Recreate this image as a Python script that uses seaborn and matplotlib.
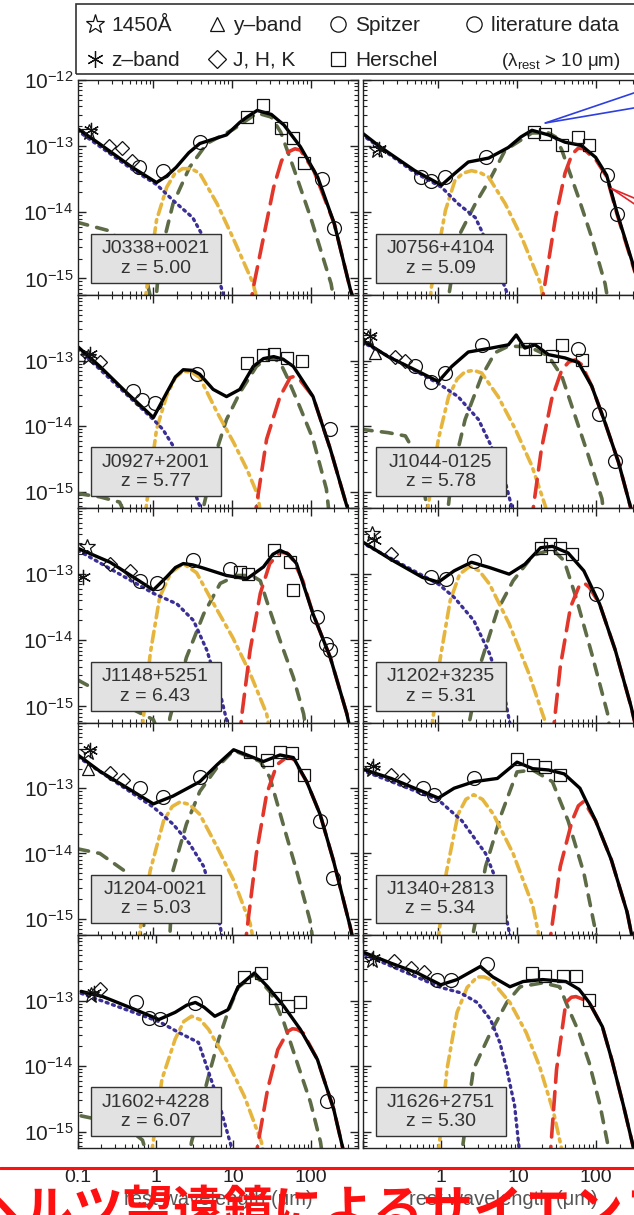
import numpy as np
import pandas as pd
import seaborn as sns
import matplotlib
matplotlib.use('Agg')
import matplotlib.pyplot as plt
from matplotlib.lines import Line2D
from matplotlib.patches import Rectangle
from matplotlib.ticker import FixedLocator, LogLocator, NullFormatter, FuncFormatter

# all values: (log10 rest wavelength [um], log10 nu*F_nu)
names = ["J0338+0021", "J0756+4104", "J0927+2001", "J1044-0125", "J1148+5251",
         "J1202+3235", "J1204-0021", "J1340+2813", "J1602+4228", "J1626+2751"]
redshifts = ["5.00", "5.09", "5.77", "5.78", "6.43", "5.31", "5.03", "5.34", "6.07", "5.30"]

# ---- J0338+0021
j0338_total = [(-0.97, -12.73), (-0.69, -12.96), (-0.27, -13.32), (0.04, -13.55), (0.17, -13.45), (0.29, -13.32),
               (0.45, -13.1), (0.59, -12.96), (0.93, -12.83), (1.1, -12.64), (1.19, -12.56), (1.32, -12.46),
               (1.5, -12.52), (1.66, -12.68), (1.87, -13.01), (2.09, -13.47), (2.30, -14.17), (2.51, -15.19),
               (2.6, -15.5)]
j0338_disk = [(-0.97, -12.76), (-0.27, -13.35), (0.04, -13.58), (0.25, -13.82), (0.5, -14.08), (0.68, -14.47),
              (0.85, -15.08), (0.95, -15.5)]
j0338_hot = [(-0.12, -15.5), (-0.09, -15.19), (0.04, -14.12), (0.17, -13.62), (0.27, -13.42), (0.37, -13.34),
             (0.48, -13.34), (0.59, -13.41), (0.81, -13.87), (1.01, -14.38), (1.27, -15.08), (1.35, -15.5)]
j0338_warm = [(0.02, -15.5), (0.08, -14.69), (0.25, -13.87), (0.46, -13.32), (0.68, -12.96), (1.01, -12.75),
              (1.32, -12.5), (1.5, -12.56), (1.62, -12.79), (1.78, -13.32), (2.0, -14.08), (2.26, -15.08),
              (2.32, -15.5)]
j0338_host = [(-0.97, -14.15), (-0.56, -14.28), (-0.27, -14.58), (-0.09, -14.99), (0.0, -15.5)]
j0338_cold = [(1.22, -15.5), (1.27, -15.14), (1.40, -14.38), (1.53, -13.62), (1.63, -13.22), (1.71, -13.09),
              (1.8, -13.04), (1.87, -13.06), (2.04, -13.37), (2.30, -14.17), (2.51, -15.19), (2.6, -15.5)]
j0338_star = [(-0.82, -12.79)]
j0338_zband = [(-0.79, -12.76)]
j0338_yband = []
j0338_jhk = [(-0.56, -13.0), (-0.4, -13.03), (-0.27, -13.22)]
j0338_spitzer = [(-0.18, -13.32), (0.12, -13.37), (0.59, -12.94)]
j0338_herschel = [(1.19, -12.56), (1.4, -12.38), (1.62, -12.73), (1.78, -12.88), (1.91, -13.26)]
j0338_lit = [(2.15, -13.49), (2.3, -14.23)]

# ---- J0756+4104
j0756_total = [(-0.98, -12.79), (-0.73, -13.02), (-0.3, -13.37), (0.04, -13.59), (0.21, -13.41), (0.38, -13.24),
               (0.64, -13.18), (0.89, -13.02), (1.05, -12.86), (1.19, -12.76), (1.40, -12.83), (1.61, -12.94),
               (1.82, -12.99), (2.0, -13.17), (2.14, -13.44), (2.27, -14.0), (2.46, -14.73), (2.6, -15.3)]
j0756_disk = [(-0.98, -12.82), (-0.3, -13.4), (0.04, -13.62), (0.25, -13.87), (0.47, -14.08), (0.55, -14.28),
              (0.85, -15.14), (0.95, -15.5)]
j0756_hot = [(-0.12, -15.5), (-0.09, -15.14), (0.09, -13.97), (0.21, -13.52), (0.31, -13.41), (0.42, -13.37),
             (0.53, -13.4), (0.64, -13.47), (0.85, -13.87), (1.06, -14.38), (1.3, -15.08), (1.36, -15.5)]
j0756_warm = [(0.1, -15.5), (0.25, -14.38), (0.47, -13.87), (0.67, -13.47), (0.85, -13.06), (1.19, -12.8),
              (1.4, -12.8), (1.49, -12.86), (1.57, -13.06), (1.78, -13.77), (1.95, -14.38), (2.12, -15.08),
              (2.18, -15.5)]
j0756_host = []
j0756_cold = [(1.3, -15.5), (1.34, -15.19), (1.49, -14.08), (1.61, -13.41), (1.7, -13.12), (1.78, -13.03),
              (1.85, -13.04), (1.91, -13.11), (2.0, -13.2), (2.14, -13.46), (2.27, -14.02), (2.46, -14.75),
              (2.6, -15.3)]
j0756_star = [(-0.78, -13.06)]
j0756_zband = [(-0.75, -13.04)]
j0756_yband = []
j0756_jhk = []
j0756_spitzer = [(-0.22, -13.47), (-0.1, -13.52), (0.09, -13.47), (0.6, -13.16)]
j0756_herschel = [(1.21, -12.79), (1.36, -12.81), (1.57, -12.99), (1.78, -12.86), (1.91, -12.99)]
j0756_lit = [(2.14, -13.44), (2.27, -14.02)]
# pointer lines drawn on the J0756 panel
j0756_blue_lines = [[(1.36, -12.65), (2.6, -12.15)], [(1.36, -12.65), (2.6, -12.40)]]
j0756_red_lines = [[(2.2, -13.64), (2.6, -13.84)], [(2.2, -13.64), (2.6, -13.96)]]

# ---- J0927+2001
j0927_total = [(-0.96, -12.79), (-0.68, -13.09), (-0.34, -13.49), (0.0, -13.87), (0.17, -13.49), (0.28, -13.25),
               (0.38, -13.14), (0.5, -13.15), (0.59, -13.21), (0.76, -13.44), (0.93, -13.55), (1.1, -13.44),
               (1.27, -13.09), (1.4, -12.97), (1.53, -12.94), (1.65, -12.98), (1.78, -13.09), (2.03, -13.55),
               (2.25, -14.35), (2.46, -15.22), (2.55, -15.5)]
j0927_disk = [(-0.96, -12.82), (0.0, -13.9), (0.12, -14.05), (0.25, -14.3), (0.4, -14.6), (0.59, -15.22),
              (0.65, -15.5)]
j0927_hot = [(-0.12, -15.5), (-0.09, -15.22), (0.04, -14.05), (0.17, -13.53), (0.28, -13.26), (0.38, -13.16),
             (0.49, -13.18), (0.59, -13.26), (0.81, -13.79), (1.02, -14.25), (1.19, -14.66), (1.33, -15.06),
             (1.38, -15.5)]
j0927_warm = [(0.6, -15.5), (0.64, -15.22), (0.81, -14.35), (0.93, -13.9), (1.1, -13.49), (1.31, -13.09),
              (1.42, -12.99), (1.53, -12.96), (1.62, -13.05), (1.7, -13.25), (1.86, -13.7), (2.03, -14.2),
              (2.2, -14.96), (2.25, -15.5)]
j0927_host = [(-0.96, -15.03), (-0.68, -15.08), (-0.43, -15.16), (-0.3, -15.5)]
j0927_cold = [(1.28, -15.5), (1.31, -15.22), (1.44, -14.2), (1.61, -13.55), (1.74, -13.26), (1.8, -13.24),
              (1.86, -13.29), (2.03, -13.55), (2.25, -14.35), (2.46, -15.22), (2.55, -15.5)]
j0927_star = [(-0.83, -12.94)]
j0927_zband = [(-0.8, -12.9)]
j0927_yband = []
j0927_jhk = [(-0.68, -13.02)]
j0927_spitzer = [(-0.26, -13.47), (-0.15, -13.6), (0.02, -13.65), (0.55, -13.21)]
j0927_herschel = [(1.19, -13.03), (1.4, -12.91), (1.53, -12.9), (1.7, -12.96), (1.89, -13.01)]
j0927_lit = [(2.25, -14.05)]

# ---- J1044-0125
j1044_total = [(-0.98, -12.68), (-0.64, -12.94), (-0.3, -13.14), (0.0, -13.32), (0.17, -13.09), (0.38, -12.87),
               (0.67, -12.81), (0.89, -12.76), (0.99, -12.61), (1.1, -12.81), (1.23, -12.76), (1.4, -12.91),
               (1.61, -12.96), (1.78, -13.03), (1.95, -13.39), (2.12, -13.95), (2.29, -14.55), (2.44, -15.22),
               (2.5, -15.5)]
j1044_disk = [(-0.98, -12.71), (0.0, -13.35), (0.25, -13.55), (0.51, -13.9), (0.67, -14.3), (0.85, -14.85),
              (0.93, -15.22), (0.97, -15.5)]
j1044_hot = [(-0.16, -15.5), (-0.13, -15.22), (0.0, -14.2), (0.13, -13.55), (0.24, -13.28), (0.34, -13.17),
             (0.45, -13.15), (0.55, -13.19), (0.76, -13.55), (0.98, -14.05), (1.19, -14.61), (1.36, -15.22),
             (1.4, -15.5)]
j1044_warm = [(0.1, -15.5), (0.17, -14.76), (0.34, -13.9), (0.55, -13.24), (0.72, -12.88), (0.89, -12.78),
              (1.15, -12.79), (1.4, -12.93), (1.57, -13.24), (1.74, -13.85), (1.91, -14.46), (2.08, -15.11),
              (2.12, -15.5)]
j1044_host = [(-0.98, -14.05), (-0.64, -14.1), (-0.42, -14.15), (-0.3, -14.4), (-0.2, -14.8), (-0.12, -15.5)]
j1044_cold = [(1.18, -15.5), (1.21, -15.22), (1.31, -14.35), (1.44, -13.59), (1.57, -13.14), (1.66, -13.02),
              (1.74, -12.99), (1.82, -13.06), (1.95, -13.39), (2.12, -13.95), (2.29, -14.55), (2.44, -15.22),
              (2.5, -15.5)]
j1044_star = [(-0.89, -12.66)]
j1044_zband = [(-0.87, -12.62)]
j1044_yband = [(-0.8, -12.89)]
j1044_jhk = [(-0.55, -12.94), (-0.42, -13.01)]
j1044_spitzer = [(-0.3, -13.09), (-0.1, -13.32), (0.09, -13.19), (0.55, -12.76)]
j1044_herschel = [(1.1, -12.82), (1.23, -12.82), (1.44, -12.93), (1.57, -12.76), (1.82, -12.99)]
j1044_lit = [(1.78, -12.83), (2.04, -13.82), (2.25, -14.53)]

# ---- J1148+5251
j1148_total = [(-0.96, -12.61), (-0.55, -12.82), (0.0, -13.24), (0.17, -13.04), (0.28, -12.9), (0.38, -12.84),
               (0.5, -12.86), (0.64, -12.91), (0.93, -13.02), (1.19, -13.07), (1.4, -12.89), (1.52, -12.7),
               (1.61, -12.64), (1.72, -12.7), (1.82, -12.84), (2.03, -13.6), (2.25, -14.26), (2.46, -15.11),
               (2.53, -15.5)]
j1148_disk = [(-0.96, -12.64), (0.0, -13.29), (0.3, -13.45), (0.51, -13.7), (0.68, -14.15), (0.85, -14.81),
              (0.93, -15.2), (0.97, -15.5)]
j1148_hot = [(-0.16, -15.5), (-0.13, -15.2), (-0.04, -14.2), (0.08, -13.35), (0.22, -12.98), (0.38, -12.84),
             (0.55, -12.98), (0.72, -13.35), (1.01, -13.96), (1.23, -14.5), (1.44, -15.11), (1.5, -15.5)]
j1148_warm = [(0.18, -15.5), (0.21, -15.17), (0.42, -14.26), (0.64, -13.6), (0.85, -13.14), (1.06, -13.02),
              (1.25, -13.02), (1.36, -13.1), (1.44, -13.4), (1.61, -14.0), (1.78, -14.56), (1.91, -15.11),
              (1.96, -15.5)]
j1148_host = [(-0.96, -14.6), (-0.5, -14.9), (0.0, -15.2), (0.1, -15.5)]
j1148_cold = [(1.1, -15.5), (1.12, -15.17), (1.23, -14.15), (1.36, -13.29), (1.48, -12.84), (1.61, -12.67),
              (1.7, -12.68), (1.78, -12.79), (1.9, -13.1), (2.03, -13.6), (2.25, -14.26), (2.46, -15.11),
              (2.53, -15.5)]
j1148_star = [(-0.85, -12.59)]
j1148_zband = [(-0.9, -13.04)]
j1148_yband = []
j1148_jhk = [(-0.55, -12.84), (-0.3, -12.95)]
j1148_spitzer = [(-0.17, -13.1), (0.04, -13.14), (0.51, -12.79), (0.97, -12.92)]
j1148_herschel = [(1.1, -12.97), (1.2, -13.0), (1.53, -12.64), (1.74, -12.81), (1.78, -13.24)]
j1148_lit = [(2.08, -13.65), (2.2, -14.05), (2.25, -14.15)]

# ---- J1202+3235
j1202_total = [(-0.98, -12.5), (-0.6, -12.78), (-0.2, -13.05), (0.0, -13.12), (0.2, -12.95), (0.42, -12.82),
               (0.65, -12.9), (0.9, -13.0), (1.1, -12.85), (1.3, -12.6), (1.45, -12.58), (1.65, -12.68),
               (1.85, -12.95), (2.05, -13.45), (2.25, -14.15), (2.45, -15.0), (2.55, -15.5)]
j1202_disk = [(-0.98, -12.52), (0.0, -13.15), (0.2, -13.35), (0.45, -13.7), (0.65, -14.2), (0.85, -14.9),
              (0.95, -15.5)]
j1202_hot = [(-0.1, -15.5), (0.02, -14.3), (0.15, -13.4), (0.27, -13.0), (0.4, -12.88), (0.52, -12.95),
             (0.65, -13.15), (0.9, -13.75), (1.15, -14.5), (1.35, -15.2), (1.4, -15.5)]
j1202_warm = [(0.35, -15.5), (0.55, -14.3), (0.75, -13.55), (0.95, -13.1), (1.2, -12.72), (1.45, -12.62),
              (1.6, -12.8), (1.75, -13.35), (1.95, -14.2), (2.15, -15.1), (2.2, -15.5)]
j1202_host = []
j1202_cold = [(1.45, -15.5), (1.55, -14.4), (1.68, -13.5), (1.8, -13.15), (1.86, -13.14), (1.92, -13.2),
              (2.05, -13.45), (2.25, -14.15), (2.45, -15.0), (2.55, -15.5)]
j1202_star = [(-0.85, -12.4)]
j1202_zband = [(-0.82, -12.48)]
j1202_yband = []
j1202_jhk = [(-0.6, -12.7)]
j1202_spitzer = [(-0.1, -13.05), (0.1, -13.08), (0.45, -12.8)]
j1202_herschel = [(1.3, -12.6), (1.42, -12.55), (1.55, -12.6), (1.7, -12.7)]
j1202_lit = [(2.0, -13.3)]

# ---- J1204-0021
j1204_total = [(-0.96, -12.49), (-0.68, -12.74), (-0.34, -12.99), (0.0, -13.24), (0.25, -13.12), (0.59, -12.9),
               (0.81, -12.64), (1.02, -12.41), (1.19, -12.49), (1.4, -12.59), (1.61, -12.49), (1.78, -12.53),
               (1.95, -12.9), (2.12, -13.4), (2.29, -14.11), (2.5, -15.11), (2.57, -15.5)]
j1204_disk = [(-0.96, -12.52), (0.0, -13.29), (0.25, -13.55), (0.46, -13.85), (0.64, -14.2), (0.85, -15.11),
              (0.9, -15.5)]
j1204_hot = [(-0.2, -15.5), (-0.17, -15.17), (-0.04, -14.26), (0.13, -13.5), (0.24, -13.28), (0.34, -13.21),
             (0.46, -13.25), (0.59, -13.4), (0.81, -13.9), (1.02, -14.41), (1.23, -15.07), (1.3, -15.5)]
j1204_warm = [(0.2, -15.5), (0.25, -14.26), (0.42, -13.55), (0.59, -13.05), (0.81, -12.68), (1.02, -12.42),
              (1.36, -12.59), (1.48, -12.83), (1.65, -13.55), (1.82, -14.26), (1.99, -15.02), (2.05, -15.5)]
j1204_host = [(-0.96, -13.93), (-0.68, -14.0), (-0.34, -14.29), (-0.17, -14.66), (-0.08, -15.5)]
j1204_cold = [(1.16, -15.5), (1.19, -15.17), (1.31, -14.0), (1.44, -13.09), (1.57, -12.64), (1.70, -12.52),
              (1.78, -12.55), (1.95, -12.9), (2.12, -13.4), (2.29, -14.11), (2.5, -15.11), (2.57, -15.5)]
j1204_star = [(-0.83, -12.44)]
j1204_zband = [(-0.81, -12.42)]
j1204_yband = [(-0.83, -12.7)]
j1204_jhk = [(-0.55, -12.77), (-0.38, -12.87)]
j1204_spitzer = [(-0.17, -12.99), (0.12, -13.14), (0.59, -12.83)]
j1204_herschel = [(1.23, -12.44), (1.44, -12.56), (1.61, -12.44), (1.76, -12.46), (1.91, -12.79)]
j1204_lit = [(2.12, -13.5), (2.29, -14.38)]

# ---- J1340+2813
j1340_total = [(-0.98, -12.7), (-0.6, -12.85), (-0.2, -13.05), (0.0, -13.15), (0.2, -13.0), (0.45, -12.9),
               (0.75, -12.85), (1.0, -12.6), (1.2, -12.7), (1.4, -12.72), (1.6, -12.78), (1.8, -13.0),
               (2.0, -13.5), (2.2, -14.1), (2.4, -14.9), (2.5, -15.5)]
j1340_disk = [(-0.98, -12.72), (0.0, -13.18), (0.3, -13.5), (0.6, -14.0), (0.8, -14.6), (0.95, -15.5)]
j1340_hot = [(-0.02, -15.5), (0.1, -14.3), (0.25, -13.4), (0.35, -13.17), (0.45, -13.1), (0.56, -13.17),
             (0.7, -13.4), (0.95, -14.0), (1.2, -14.8), (1.32, -15.5)]
j1340_warm = [(0.4, -15.5), (0.6, -14.2), (0.8, -13.4), (1.0, -12.75), (1.2, -12.72), (1.45, -12.9),
              (1.65, -13.5), (1.85, -14.3), (2.05, -15.5)]
j1340_host = []
j1340_cold = [(1.4, -15.5), (1.55, -14.2), (1.7, -13.5), (1.78, -13.27), (1.85, -13.2), (2.0, -13.5),
              (2.2, -14.1), (2.4, -14.9), (2.5, -15.5)]
j1340_star = [(-0.85, -12.7)]
j1340_zband = [(-0.83, -12.66)]
j1340_yband = []
j1340_jhk = [(-0.6, -12.8), (-0.45, -12.88)]
j1340_spitzer = [(-0.2, -13.0), (-0.05, -13.1), (0.45, -12.85)]
j1340_herschel = [(1.0, -12.55), (1.2, -12.65), (1.35, -12.68), (1.55, -12.8)]
j1340_lit = []

# ---- J1602+4228
j1602_total = [(-0.96, -12.86), (-0.68, -12.94), (-0.26, -13.14), (0.04, -13.29), (0.25, -13.18), (0.4, -13.07),
               (0.51, -13.03), (0.62, -13.1), (0.76, -13.24), (0.93, -13.14), (1.06, -12.79), (1.27, -12.58),
               (1.44, -12.79), (1.65, -13.09), (1.86, -13.44), (2.08, -13.9), (2.29, -14.66), (2.4, -15.22),
               (2.45, -15.5)]
j1602_disk = [(-0.96, -12.89), (0.04, -13.32), (0.3, -13.49), (0.55, -13.64), (0.68, -14.09), (0.81, -14.55),
              (0.97, -15.22), (1.02, -15.5)]
j1602_hot = [(-0.07, -15.5), (-0.04, -15.22), (0.08, -14.2), (0.25, -13.59), (0.36, -13.32), (0.46, -13.24),
             (0.57, -13.29), (0.68, -13.44), (0.93, -13.95), (1.14, -14.46), (1.36, -15.16), (1.41, -15.5)]
j1602_warm = [(0.42, -15.5), (0.46, -15.16), (0.68, -14.15), (0.81, -13.59), (0.93, -13.17), (1.06, -12.8),
              (1.27, -12.6), (1.48, -12.88), (1.65, -13.34), (1.82, -13.95), (1.99, -14.55), (2.12, -15.16),
              (2.16, -15.5)]
j1602_host = [(-0.96, -14.76), (-0.68, -14.83), (-0.34, -14.97), (-0.17, -15.13), (-0.08, -15.5)]
j1602_cold = [(1.28, -15.5), (1.31, -15.22), (1.44, -14.35), (1.57, -13.75), (1.7, -13.47), (1.76, -13.43),
              (1.82, -13.44), (1.9, -13.5), (2.08, -13.9), (2.29, -14.66), (2.4, -15.22), (2.45, -15.5)]
j1602_star = [(-0.83, -12.91)]
j1602_zband = [(-0.8, -12.88)]
j1602_yband = []
j1602_jhk = [(-0.72, -12.83)]
j1602_spitzer = [(-0.26, -13.02), (-0.09, -13.26), (0.06, -13.28), (0.51, -13.03)]
j1602_herschel = [(1.14, -12.64), (1.36, -12.58), (1.53, -12.96), (1.70, -13.09), (1.86, -13.02)]
j1602_lit = [(2.2, -14.53)]

# ---- J1626+2751
j1626_total = [(-0.98, -12.27), (-0.64, -12.43), (-0.3, -12.58), (0.0, -12.76), (0.21, -12.68), (0.51, -12.48),
               (0.67, -12.64), (0.89, -12.79), (1.06, -12.71), (1.31, -12.68), (1.61, -12.71), (1.78, -12.83),
               (1.91, -13.03), (2.08, -13.4), (2.2, -13.9), (2.35, -14.6), (2.5, -15.35)]
j1626_disk = [(-0.98, -12.3), (0.0, -12.8), (0.25, -12.88), (0.47, -13.03), (0.64, -13.29), (0.76, -13.64),
              (0.85, -14.05), (0.95, -14.6), (1.03, -15.5)]
j1626_hot = [(-0.05, -15.5), (0.0, -15.0), (0.08, -14.05), (0.21, -13.18), (0.34, -12.8), (0.47, -12.64),
             (0.56, -12.64), (0.64, -12.68), (0.89, -13.03), (1.1, -13.49), (1.27, -14.0), (1.45, -14.7),
             (1.6, -15.5)]
j1626_warm = [(0.25, -15.5), (0.42, -14.05), (0.64, -13.49), (0.85, -13.03), (1.02, -12.79), (1.31, -12.73),
              (1.53, -12.79), (1.65, -13.14), (1.78, -13.49), (1.91, -13.95), (2.05, -14.6), (2.2, -15.5)]
j1626_host = []
j1626_cold = [(1.4, -15.5), (1.49, -14.05), (1.61, -13.03), (1.68, -12.95), (1.74, -12.94), (1.87, -13.0),
              (1.91, -13.03), (2.08, -13.4), (2.2, -13.9), (2.35, -14.6), (2.5, -15.35)]
j1626_star = [(-0.89, -12.38)]
j1626_zband = [(-0.87, -12.35)]
j1626_yband = []
j1626_jhk = [(-0.6, -12.4), (-0.38, -12.5), (-0.21, -12.56)]
j1626_spitzer = [(-0.05, -12.68), (0.13, -12.68), (0.6, -12.45)]
j1626_herschel = [(1.17, -12.58), (1.34, -12.63), (1.57, -12.63), (1.74, -12.63), (1.91, -12.99)]
j1626_lit = []

xticks_left = [0.1, 1, 10, 100]
xticks_right = [1, 10, 100]
xlabel = "rest wavelength (μm)"
caption = "テラヘルツ望遠鏡によるサイエンス"

panels = []
for key in ["j0338", "j0756", "j0927", "j1044", "j1148", "j1202", "j1204", "j1340", "j1602", "j1626"]:
    g = globals()
    panels.append({part: g[key + "_" + part] for part in
                   ["total", "disk", "hot", "warm", "host", "cold", "star", "zband", "yband",
                    "jhk", "spitzer", "herschel", "lit"]})

sns.set_theme(style="ticks")
plt.rcParams['font.family'] = ['Liberation Sans', 'DejaVu Sans']
plt.rcParams['mathtext.fontset'] = 'custom'
plt.rcParams['mathtext.rm'] = 'Liberation Sans'
plt.rcParams['mathtext.it'] = 'Liberation Sans:italic'
plt.rcParams['mathtext.default'] = 'regular'

W, H = 634, 1215
fig = plt.figure(figsize=(W / 100, H / 100), dpi=100)
fig.patch.set_facecolor('white')

row_top = [80, 295, 508, 723, 935]
row_bot = [295, 508, 723, 935, 1148]
col_x = [78, 363]
col_w = 280

line_styles = {
    "host": dict(color='#5d6b47', lw=2.6, ls=(0, (3, 2.6))),
    "warm": dict(color='#5d6b47', lw=2.6, ls=(0, (3, 2.6))),
    "hot": dict(color='#e6b53e', lw=2.6, ls=(0, (3, 1.5, 0.8, 1.5))),
    "disk": dict(color='#3a2f96', lw=2.4, ls=(0, (0.6, 1.4))),
    "cold": dict(color='#e2362b', lw=2.6, ls=(0, (5, 2.6))),
    "total": dict(color='black', lw=2.4, ls='-'),
}
marker_styles = {
    "star": dict(marker='*', ms=12),
    "zband": dict(marker=(6, 2, 0), ms=11),
    "yband": dict(marker='^', ms=8),
    "jhk": dict(marker='D', ms=7.5),
    "spitzer": dict(marker='o', ms=10),
    "herschel": dict(marker='s', ms=9),
    "lit": dict(marker='o', ms=10),
}


def draw_curve(ax, pts, style):
    if not pts:
        return
    d = pd.DataFrame(pts, columns=['lx', 'ly'])
    d['x'] = 10 ** d['lx']
    d['y'] = 10 ** d['ly']
    sns.lineplot(data=d, x='x', y='y', ax=ax, sort=False, estimator=None,
                 color=style['color'], lw=style['lw'], linestyle=style['ls'],
                 dash_capstyle='round', solid_capstyle='round', solid_joinstyle='round',
                 legend=False)


def sci(v, pos):
    e = int(round(np.log10(v)))
    return r'$10^{%d}$' % e


for i, p in enumerate(panels):
    r, c = divmod(i, 2)
    top, bot = row_top[r], row_bot[r]
    ax = fig.add_axes([col_x[c] / W, 1 - bot / H, col_w / W, (bot - top) / H])
    ax.set_xscale('log')
    ax.set_yscale('log')
    ax.set_xlim(0.11, 400)
    ax.set_ylim(10 ** -15.25, 1e-12)
    ax.set_facecolor('white')

    for part in ["host", "warm", "hot", "disk", "cold", "total"]:
        draw_curve(ax, p[part], line_styles[part])

    for part in ["star", "zband", "yband", "jhk", "spitzer", "herschel", "lit"]:
        if not p[part]:
            continue
        lx, ly = zip(*p[part])
        ax.plot(10 ** np.array(lx), 10 ** np.array(ly), ls='none', mfc='none', mec='#111111',
                mew=0.9, zorder=5, **marker_styles[part])

    if i == 1:
        for seg in j0756_blue_lines:
            lx, ly = zip(*seg)
            ax.plot(10 ** np.array(lx), 10 ** np.array(ly), color='#2e3fe0', lw=1.2, clip_on=False, zorder=6)
        for seg in j0756_red_lines:
            lx, ly = zip(*seg)
            ax.plot(10 ** np.array(lx), 10 ** np.array(ly), color='#e0252a', lw=1.2, clip_on=False, zorder=6)

    # name box
    ax.add_patch(Rectangle((0.045, 0.055), 0.465, 0.23, transform=ax.transAxes,
                           fc='#e2e2e2', ec='#333333', lw=1.0, zorder=7))
    ax.text(0.277, 0.215, names[i], transform=ax.transAxes, ha='center', va='center',
            fontsize=14, color='#333333', zorder=8)
    ax.text(0.277, 0.125, "z = " + redshifts[i], transform=ax.transAxes, ha='center', va='center',
            fontsize=14, color='#333333', zorder=8)

    # ticks
    ax.yaxis.set_major_locator(FixedLocator([1e-15, 1e-14, 1e-13, 1e-12]))
    ax.yaxis.set_minor_locator(LogLocator(base=10, subs=np.arange(2, 10)))
    ax.xaxis.set_major_locator(FixedLocator([0.1, 1, 10, 100]))
    ax.xaxis.set_minor_locator(LogLocator(base=10, subs=np.arange(2, 10)))
    ax.xaxis.set_minor_formatter(NullFormatter())
    ax.yaxis.set_minor_formatter(NullFormatter())
    ax.tick_params(which='both', direction='in', top=True, right=True, colors='#222222')
    ax.tick_params(which='major', length=6, width=1.0, labelsize=15)
    ax.tick_params(which='minor', length=3, width=0.8)
    if c == 0:
        if r == 0:
            ax.yaxis.set_major_formatter(FuncFormatter(sci))
        else:
            ax.yaxis.set_major_formatter(FuncFormatter(lambda v, pos: '' if v > 5e-13 else sci(v, pos)))
    else:
        ax.yaxis.set_major_formatter(NullFormatter())
    if r == 4:
        if c == 0:
            ax.set_xticks(xticks_left)
            ax.set_xticklabels(['0.1', '1', '10', '100'])
        else:
            ax.set_xticks([0.1] + xticks_right)
            ax.set_xticklabels(['', '1', '10', '100'])
        ax.tick_params(axis='x', which='major', labelsize=14, pad=15)
        ax.set_xlabel(xlabel, fontsize=14.5, color='#555555', labelpad=3)
    else:
        ax.xaxis.set_major_formatter(NullFormatter())
        ax.set_xlabel('')
    ax.set_ylabel('')
    for s in ax.spines.values():
        s.set_color('#222222')
        s.set_linewidth(1.0)

# legend (frame drawn as a separate box that runs off the right edge)
mk = dict(ls='none', mfc='none', mec='#111111', mew=0.9)
h_star = Line2D([], [], marker='*', ms=14, **mk)
h_z = Line2D([], [], marker=(6, 2, 0), ms=12, **mk)
h_y = Line2D([], [], marker='^', ms=10, **mk)
h_jhk = Line2D([], [], marker='D', ms=9, **mk)
h_sp = Line2D([], [], marker='o', ms=11, **mk)
h_he = Line2D([], [], marker='s', ms=10, **mk)
h_lit = Line2D([], [], marker='o', ms=11, **mk)
h_blank = Line2D([], [], ls='none', marker=None)
leg = fig.legend([h_star, h_z, h_y, h_jhk, h_sp, h_he, h_lit, h_blank],
                 ["1450\u00c5", "z\u2013band", "y\u2013band", "J, H, K", "Spitzer", "Herschel",
                  "literature data", "  (\u03bb$_{\\rm rest}$ > 10 \u03bcm)"],
                 loc='upper left', bbox_to_anchor=(76 / W, 1 - 7 / H), ncol=4, frameon=False,
                 fontsize=15, handlelength=0.9, handletextpad=0.35, columnspacing=1.3,
                 labelspacing=0.75, borderpad=0.45, borderaxespad=0)
for t in leg.get_texts():
    t.set_color('#222222')
leg.get_texts()[-1].set_fontsize(13.5)
fig.add_artist(Rectangle((76 / W, 1 - 74 / H), 600 / W, 70 / H, transform=fig.transFigure,
                         fc='none', ec='#333333', lw=1.2))

# red overlay
fig.add_artist(Line2D([0, 1], [1 - 1168 / H, 1 - 1168 / H], transform=fig.transFigure,
                      color='#ff1010', lw=2.2, zorder=20))
fig.text(-126 / W, 1 - 1212 / H, caption, fontsize=36, color='#ff1010', ha='left', va='center',
         family=['Noto Sans CJK JP', 'DejaVu Sans'], weight='bold', zorder=21)

fig.savefig('out.png', dpi=100, facecolor='white')
